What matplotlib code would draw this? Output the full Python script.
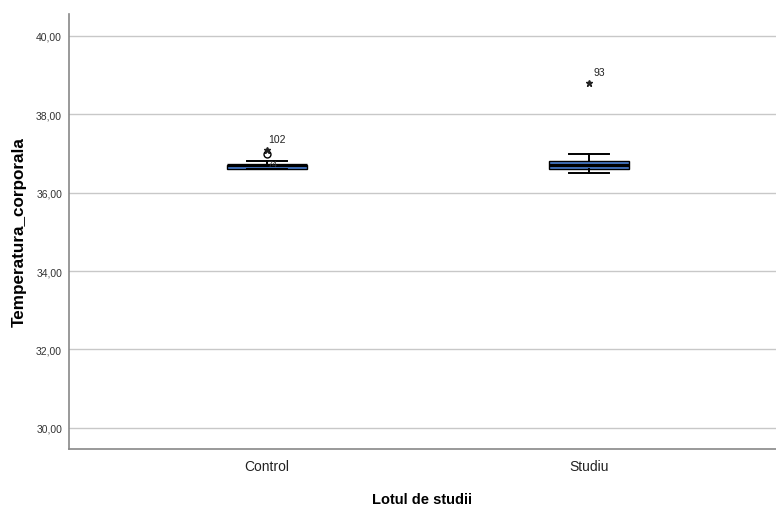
import matplotlib
matplotlib.use("Agg")
import matplotlib.pyplot as plt

plt.rcParams["font.family"] = ["Liberation Sans", "DejaVu Sans"]

# Summary statistics per group
groups = ["Control", "Studiu"]
q1 = [36.60, 36.60]
median = [36.70, 36.70]
q3 = [36.70, 36.80]
whisker_low = [36.60, 36.50]
whisker_high = [36.80, 37.00]
# outliers (circle) and extreme values (star) with their case numbers
outliers = [[37.0], []]
outlier_ids = [["74"], []]
extremes = [[37.1], [38.8]]
extreme_ids = [["102"], ["93"]]

y_ticks = [30, 32, 34, 36, 38, 40]

fig = plt.figure(figsize=(7.76, 5.06), dpi=100)
ax = fig.add_axes([69 / 776, 56 / 506, 707 / 776, 435 / 506])

stats = []
for i, g in enumerate(groups):
    stats.append(dict(label=g, med=median[i], q1=q1[i], q3=q3[i],
                      whislo=whisker_low[i], whishi=whisker_high[i], fliers=[]))

ax.bxp(stats, positions=range(len(groups)), widths=0.25, patch_artist=True,
       showfliers=False,
       boxprops=dict(facecolor="#4a80d4", edgecolor="black", linewidth=1.0),
       medianprops=dict(color="black", linewidth=2.4),
       whiskerprops=dict(color="black", linewidth=1.4),
       capprops=dict(color="black", linewidth=1.4),
       capwidths=0.125, zorder=3)

for i in range(len(groups)):
    for v in outliers[i]:
        ax.plot(i, v, marker="o", markersize=5, markerfacecolor="none",
                markeredgecolor="black", markeredgewidth=1.0, zorder=4)
    for j, v in enumerate(extremes[i]):
        ax.plot(i, v, marker="*", markersize=4.5, color="#222222", zorder=4)
        ax.annotate(extreme_ids[i][j], (i, v),
                    xytext=(7, 4), textcoords="offset points",
                    fontsize=7.5, color="#222222", ha="center", va="bottom")

# case label drawn beside the upper whisker of the control group
ax.text(0.0, 36.74, outlier_ids[0][0], fontsize=6.5, color="#333333",
        ha="left", va="center", zorder=5)

ax.set_xlim(-0.615, 1.58)
ax.set_ylim(29.46, 40.56)
ax.set_yticks(y_ticks)
ax.set_yticklabels([f"{t:.2f}".replace(".", ",") for t in y_ticks],
                   fontsize=7.5, color="#333333")
ax.set_xticks(range(len(groups)))
ax.set_xticklabels(groups, fontsize=10, color="#222222")
ax.tick_params(axis="both", length=0)
ax.tick_params(axis="x", pad=7)
ax.tick_params(axis="y", pad=5)

ax.grid(axis="y", color="#c8c8c8", linewidth=1.0, zorder=0)
ax.set_axisbelow(True)
for side in ["top", "right"]:
    ax.spines[side].set_visible(False)
for side in ["left", "bottom"]:
    ax.spines[side].set_color("#888888")
    ax.spines[side].set_linewidth(1.2)

ax.set_xlabel("Lotul de studii", fontsize=10.5, fontweight="bold", labelpad=14)
ax.set_ylabel("Temperatura_corporala", fontsize=12.3, fontweight="bold", labelpad=6.5)

fig.savefig("out.png", dpi=100)
